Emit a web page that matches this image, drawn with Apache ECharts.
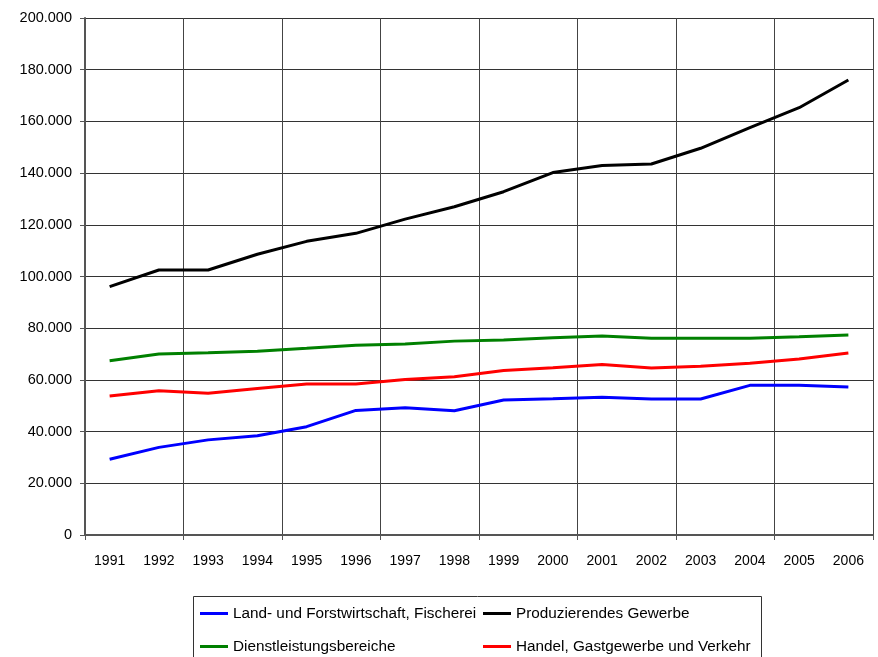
<!DOCTYPE html>
<html lang="de">
  <head>
    <meta charset="UTF-8" />
    <title>Wertschöpfung</title>
    <script src="https://cdn.jsdelivr.net/npm/echarts@6/dist/echarts.min.js"></script>
    <style>
      body { margin: 0; background: #fff; }
    </style>
  </head>
  <body>
    <div id="main" style="width: 878px; height: 657px"></div>
    <script type="text/javascript">
      const years = ["1991", "1992", "1993", "1994", "1995", "1996", "1997", "1998",
        "1999", "2000", "2001", "2002", "2003", "2004", "2005", "2006"];

      const landwirtschaft = [29300, 33900, 36800, 38400, 41900, 48200, 49200, 48100,
        52200, 52700, 53300, 52600, 52600, 57900, 57900, 57300];
      const produzierend = [96100, 102500, 102500, 108600, 113600, 116700, 122200, 127000,
        132800, 140200, 142900, 143500, 149600, 157600, 165300, 176000];
      const dienstleistung = [67400, 70000, 70500, 71100, 72200, 73400, 73900, 75000,
        75400, 76300, 77000, 76100, 76100, 76100, 76700, 77400];
      const handel = [53800, 55800, 54800, 56700, 58400, 58400, 60200, 61200,
        63600, 64700, 66000, 64600, 65300, 66400, 68100, 70400];

      const seriesNames = [
        "Land- und Forstwirtschaft, Fischerei",
        "Produzierendes Gewerbe",
        "Dienstleistungsbereiche",
        "Handel, Gastgewerbe und Verkehr",
      ];
      const colors = ["#0000ff", "#000000", "#008000", "#ff0000"];

      const font = "Arial, 'Liberation Sans', sans-serif";

      // 200000 -> "200.000"
      function fmt(v) {
        return String(v).replace(/\B(?=(\d{3})+(?!\d))/g, ".");
      }

      // gridlines / ticks only every second year boundary
      function everyOther(index) {
        return index % 2 === 0;
      }

      function legendAt(name, left, top) {
        return {
          data: [name],
          left: left,
          top: top,
          padding: 0,
          icon: "rect",
          itemWidth: 28,
          itemHeight: 3,
          textStyle: { fontFamily: font, fontSize: 15.3, color: "#000" },
          selectedMode: false,
        };
      }

      let myChart = echarts.init(document.getElementById("main"));
      let options = {
        animation: false,
        color: colors,
        grid: { left: 85, right: 5, top: 18, bottom: 122, containLabel: false },
        legend: [
          legendAt(seriesNames[0], 200, 606),
          legendAt(seriesNames[1], 483, 606),
          legendAt(seriesNames[2], 200, 639),
          legendAt(seriesNames[3], 483, 639),
        ],
        graphic: [
          {
            type: "rect",
            shape: { x: 193.5, y: 596.5, width: 568, height: 70 },
            style: { fill: "none", stroke: "#333", lineWidth: 1 },
          },
        ],
        xAxis: {
          type: "category",
          data: years,
          boundaryGap: true,
          axisLine: { lineStyle: { color: "#555", width: 2 } },
          axisTick: { show: true, interval: everyOther, length: 5, lineStyle: { color: "#555" } },
          splitLine: { show: true, interval: everyOther, lineStyle: { color: "#444", width: 1 } },
          axisLabel: { interval: 0, margin: 19, fontFamily: font, fontSize: 14, color: "#000" },
        },
        yAxis: {
          type: "value",
          min: 0,
          max: 200000,
          interval: 20000,
          axisLine: { show: true, lineStyle: { color: "#555", width: 2 } },
          axisTick: { show: true, length: 5, lineStyle: { color: "#555" } },
          splitLine: { show: true, lineStyle: { color: "#333", width: 1 } },
          axisLabel: { margin: 13, fontFamily: font, fontSize: 14.5, color: "#000", formatter: fmt },
        },
        series: [
          { name: seriesNames[0], type: "line", data: landwirtschaft },
          { name: seriesNames[1], type: "line", data: produzierend },
          { name: seriesNames[2], type: "line", data: dienstleistung },
          { name: seriesNames[3], type: "line", data: handel },
        ].map((s) => Object.assign(s, {
          showSymbol: false,
          symbol: "none",
          lineStyle: { width: 3 },
        })),
      };
      myChart.setOption(options);
    </script>
  </body>
</html>
